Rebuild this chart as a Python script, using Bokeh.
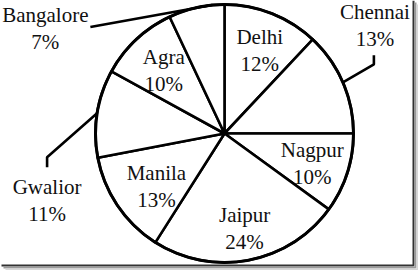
import numpy as np
from bokeh.plotting import figure
from bokeh.models import Range1d, ColumnDataSource
from bokeh.embed import file_html
from bokeh.resources import INLINE
from bokeh.core.properties import value

# ---- data ----
cities = ["Delhi", "Chennai", "Nagpur", "Jaipur", "Manila", "Gwalior", "Agra", "Bangalore"]
shares = [12, 13, 10, 24, 13, 11, 10, 7]
pct_labels = [f"{s}%" for s in shares]

# ---- layout / style ----
W, H = 418, 270
CX, CY, R = 224, 137, 129
FONT = "Liberation Serif"
FSIZE = "21px"
LINE_GAP = 13.5
INK = "#111111"

# inside labels: (radius fraction, angle nudge in degrees)
inside_style = {
    "Delhi": (0.70, -1.4),
    "Nagpur": (0.72, -1.0),
    "Jaipur": (0.75, 1.2),
    "Manila": (0.67, 3.8),
    "Agra": (0.68, 0.6),
}
# outside labels: leader angle nudge, list of leader step offsets (px), label offset from last point
outside_style = {
    "Chennai": (0.0, [(31, 18), (0, 9)], (1, 30)),
    "Gwalior": (0.0, [(-50, -44), (0, -10)], (0, -33)),
    "Bangalore": (-7.2, [(-122, -22)], (-45, -1)),
}

fr = np.array(shares, dtype=float) / sum(shares)
cum = np.concatenate([[0.0], np.cumsum(fr)])
start_deg = 90 - 360 * cum[:-1]
end_deg = 90 - 360 * cum[1:]
mid_deg = (start_deg + end_deg) / 2

p = figure(width=W, height=H, output_backend="svg", toolbar_location=None,
           x_range=Range1d(0, W), y_range=Range1d(0, H), min_border=0)
p.axis.visible = False
p.grid.visible = False
p.outline_line_color = None
p.background_fill_color = "white"
p.border_fill_color = "white"

src = ColumnDataSource(dict(city=cities, share=shares,
                            start=np.deg2rad(start_deg), end=np.deg2rad(end_deg)))
p.wedge(x=CX, y=CY, radius=R, start_angle="start", end_angle="end", direction="clock",
        fill_color="white", line_color="black", line_width=2.6, source=src)
p.circle(x=[CX], y=[CY], radius=R, fill_color=None, line_color="black", line_width=3)

tx, ty, tt = [], [], []
lx, ly = [], []
for i, c in enumerate(cities):
    if c in inside_style:
        rf, nudge = inside_style[c]
        a = np.deg2rad(mid_deg[i] + nudge)
        bx, by = CX + rf * R * np.cos(a), CY + rf * R * np.sin(a)
    else:
        nudge, steps, loff = outside_style[c]
        a = np.deg2rad(mid_deg[i] + nudge)
        px, py = CX + R * np.cos(a), CY + R * np.sin(a)
        xs, ys = [px], [py]
        for dx, dy in steps:
            px, py = px + dx, py + dy
            xs.append(px)
            ys.append(py)
        lx.append(xs)
        ly.append(ys)
        bx, by = px + loff[0], py + loff[1]
    tx += [bx, bx]
    ty += [by + LINE_GAP, by - LINE_GAP]
    tt += [c, pct_labels[i]]

p.multi_line(xs=lx, ys=ly, line_color="black", line_width=2.6)
p.text(x=tx, y=ty, text=tt, text_font=value(FONT), text_font_size=FSIZE,
       text_align="center", text_baseline="middle", text_color=INK)

# frame shadow on right and bottom edges
p.line(x=[1, 413, 413], y=[5, 5, H], line_color="#333333", line_width=2)
p.line(x=[3, 415, 415], y=[3, 3, H - 2], line_color="#9a9a9a", line_width=2)
p.line(x=[5, 417, 417], y=[1, 1, H - 4], line_color="#d8d8d8", line_width=2)

open("out.html", "w").write(file_html(p, INLINE))
